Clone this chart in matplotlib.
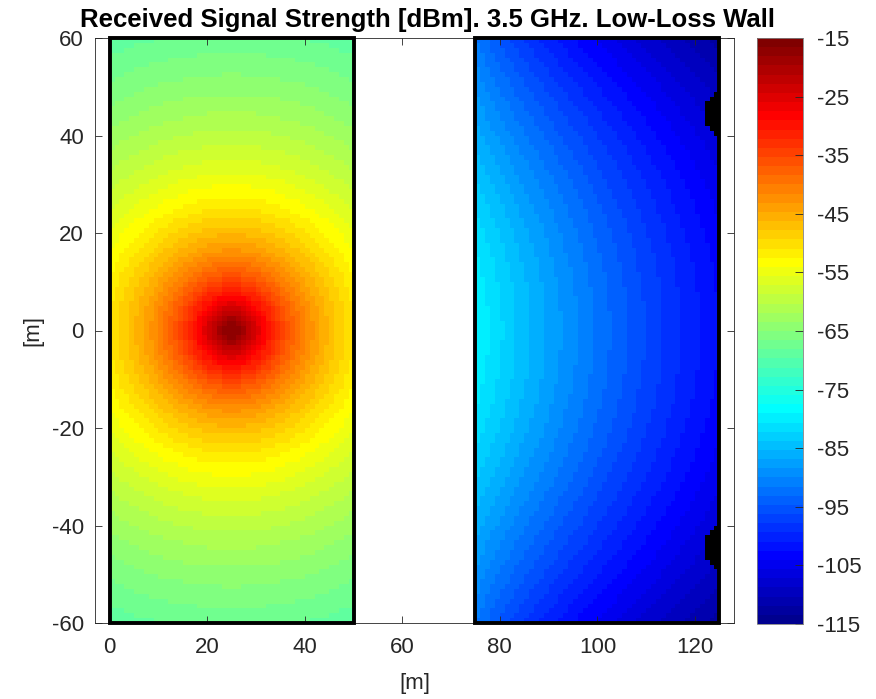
import numpy as np
import matplotlib
matplotlib.use("Agg")
import matplotlib.pyplot as plt
from matplotlib.colors import ListedColormap, Normalize
from matplotlib.patches import Rectangle

plt.rcParams['font.family'] = ['Liberation Sans', 'DejaVu Sans']
plt.rcParams['axes.unicode_minus'] = False

# scene (metres)
left_room = (0, 50)
right_room = (75, 125)
room_y = (-60, 60)
tx_pos = (25, 0)
tx_height = 4.5          # m above the receiver plane

# propagation values
ref_level = 12.5         # dBm at 1 m
path_exp = 4.5           # log-distance exponent
wall_loss = 15.0         # dB, low-loss wall at normal incidence
oblique_loss = 10.0      # dB extra at grazing incidence
room_loss_per_m = 0.2    # dB/m inside the far room
shadow_centres = [(126.5, 44.5), (126.5, -44.5)]
shadow_radius = 4.7

clim = (-115, -15)
cbar_ticks = list(range(-115, -14, 10))
x_ticks = [0, 20, 40, 60, 80, 100, 120]
y_ticks = [-60, -40, -20, 0, 20, 40, 60]


def matlab_jet(n=64):
    # piecewise-linear jet as in MATLAB, sampled at n levels
    i = np.arange(1, n + 1) / n * 64
    r = np.interp(i, [0, 24, 40, 56, 64], [0, 0, 1, 1, 0.5])
    g = np.interp(i, [0, 8, 24, 40, 56, 64], [0, 0, 1, 1, 0, 0])
    b = np.interp(i, [0, 8, 24, 40, 64], [0.5, 1, 1, 0, 0])
    return np.column_stack([r, g, b])


def rss(x, y, through_wall):
    dx = x - tx_pos[0]
    dy = y - tx_pos[1]
    d = np.hypot(dx, dy)
    d3 = np.hypot(d, tx_height)
    val = ref_level - 10 * path_exp * np.log10(d3)
    if through_wall:
        cos_t = dx / d
        val = val - wall_loss - oblique_loss * (1 - cos_t) \
            - room_loss_per_m * (x - right_room[0]) / cos_t ** 3
    return val


cmap = ListedColormap(matlab_jet(64))
cmap.set_under('black')
norm = Normalize(vmin=clim[0], vmax=clim[1])

fig = plt.figure(figsize=(8.76, 6.99), dpi=100)
ax = fig.add_axes([95 / 876, (699 - 623) / 699, 639 / 876, 585 / 699])

ye = np.arange(room_y[0], room_y[1] + 1)
yc = (ye[:-1] + ye[1:]) / 2
for room, wall in [(left_room, False), (right_room, True)]:
    xe = np.arange(room[0], room[1] + 1)
    xc = (xe[:-1] + xe[1:]) / 2
    X, Y = np.meshgrid(xc, yc)
    Z = rss(X, Y, wall)
    if wall:
        for cx, cy in shadow_centres:
            Z[np.hypot(X - cx, Y - cy) < shadow_radius] = clim[0] - 10
    pc = ax.pcolormesh(xe, ye, Z, cmap=cmap, norm=norm, shading='flat')
    ax.add_patch(Rectangle((room[0], room_y[0]), room[1] - room[0], room_y[1] - room_y[0],
                           fill=False, ec='black', lw=2.8, clip_on=False, zorder=3))

ax.set_xlim(-3, 128)
ax.set_ylim(room_y)
ax.set_xticks(x_ticks)
ax.set_yticks(y_ticks)
ax.tick_params(direction='in', length=5, width=0.6, top=True, right=True,
               labelsize=16, colors='#262626')
ax.tick_params(axis='x', pad=10)
ax.tick_params(axis='y', pad=8)
for s in ax.spines.values():
    s.set_color('#262626')
    s.set_linewidth(0.6)
ax.set_xlabel('[m]', fontsize=16, color='#262626', labelpad=11)
ax.set_ylabel('[m]', fontsize=16, color='#262626', labelpad=6)
fig.text(428 / 876, 1 - 27 / 699, 'Received Signal Strength [dBm]. 3.5 GHz. Low-Loss Wall',
         fontsize=18.5, fontweight='bold', ha='center', va='baseline')

cax = fig.add_axes([757 / 876, (699 - 624) / 699, 46 / 876, 586 / 699])
cb = fig.colorbar(pc, cax=cax, ticks=cbar_ticks)
cb.outline.set_edgecolor('#808080')
cb.outline.set_linewidth(0.6)
cax.tick_params(direction='in', length=6, width=0.6, labelsize=16, colors='#262626', pad=10)

fig.savefig('out.png', dpi=100)
